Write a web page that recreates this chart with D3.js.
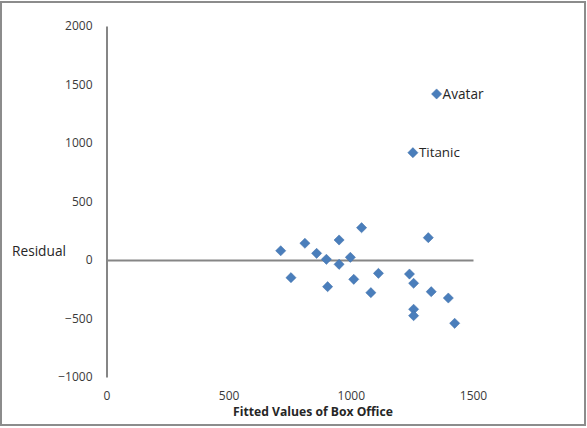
<!DOCTYPE html>
<html><head><meta charset="utf-8">
<script src="https://cdn.jsdelivr.net/npm/d3@7"></script>
<style>body{margin:0;background:#fff}</style>
</head><body>
<svg id="c" width="587" height="428"></svg>
<script>
const fitted = [713,755,812,860,900,905,952,952,998,1012,1044,1082,1113,1240,1257,1257,1257,1317,1329,1399,1425,1351,1254];
const residual = [79,-151,143,57,6,-228,171,-37,23,-165,276,-279,-114,-120,-199,-421,-476,191,-271,-325,-541,1419,917];
const pointLabels = ["","","","","","","","","","","","","","","","","","","","","","Avatar","Titanic"];
const xTicks = [0,500,1000,1500];
const yTicks = [-1000,-500,0,500,1000,1500,2000];

const svg = d3.select("#c");
svg.append("rect").attr("x",1).attr("y",2).attr("width",584).attr("height",423)
  .attr("fill","#fff").attr("stroke","#8c8c8c").attr("stroke-width",2);

const x = d3.scaleLinear().domain([0,1500]).range([106.5,473]);
const y = d3.scaleLinear().domain([-1000,2000]).range([377,26]);
const font = "'Open Sans', 'Liberation Sans', sans-serif";

function fit(sel, target){
  const n = sel.node(); const fs = parseFloat(sel.attr("font-size"));
  const w = n.getComputedTextLength();
  if (w>0) sel.attr("font-size", fs*target/w);
}

// y axis
const yAxis = d3.axisLeft(y).tickValues(yTicks).tickSize(0).tickPadding(14).tickFormat(d3.format("d"));
const gy = svg.append("g").attr("transform",`translate(${x(0)},0)`).call(yAxis);
gy.select(".domain").attr("stroke","#868686").attr("stroke-width",2);
gy.selectAll("text").attr("font-family",font).attr("font-size",12).attr("fill","#3a3a3a");

// x axis at y=0
const xAxis = d3.axisBottom(x).tickValues(xTicks).tickSize(0).tickFormat(d3.format("d"));
const gx = svg.append("g").attr("transform",`translate(0,${y(0)})`).call(xAxis);
gx.select(".domain").attr("stroke","#868686").attr("stroke-width",2);
gx.selectAll("text").attr("font-family",font).attr("font-size",12).attr("fill","#3a3a3a")
  .attr("y",0).attr("dy","0.35em").attr("transform",`translate(0,${396-y(0)})`);

const title = svg.append("text").attr("x",313).attr("y",412).attr("dy","0.35em").attr("text-anchor","middle")
  .attr("font-family",font).attr("font-size",11).attr("font-weight","bold").attr("fill","#262626")
  .text("Fitted Values of Box Office");
fit(title,160);
const ylab = svg.append("text").attr("x",12).attr("y",251).attr("dy","0.35em").attr("font-family",font).attr("font-size",12)
  .attr("fill","#262626").text("Residual");
fit(ylab,54);

const pts = fitted.map((f,i)=>({f, r:residual[i], l:pointLabels[i]}));
const sym = d3.symbol().type(d3.symbolDiamond2).size(66);
svg.append("g").selectAll("path").data(pts).join("path")
  .attr("d",sym).attr("transform",d=>`translate(${x(d.f)},${y(d.r)})`)
  .attr("fill","#4a7ebb").attr("stroke","#3c6da8").attr("stroke-width",0.5);

svg.append("g").selectAll("text").data(pts.filter(d=>d.l)).join("text")
  .attr("x",d=>x(d.f)+6).attr("y",d=>y(d.r)).attr("dy","0.35em")
  .attr("font-family",font).attr("font-size",12.5).attr("fill","#262626").text(d=>d.l)
  .each(function(){ fit(d3.select(this),41); });
</script>
</body></html>
